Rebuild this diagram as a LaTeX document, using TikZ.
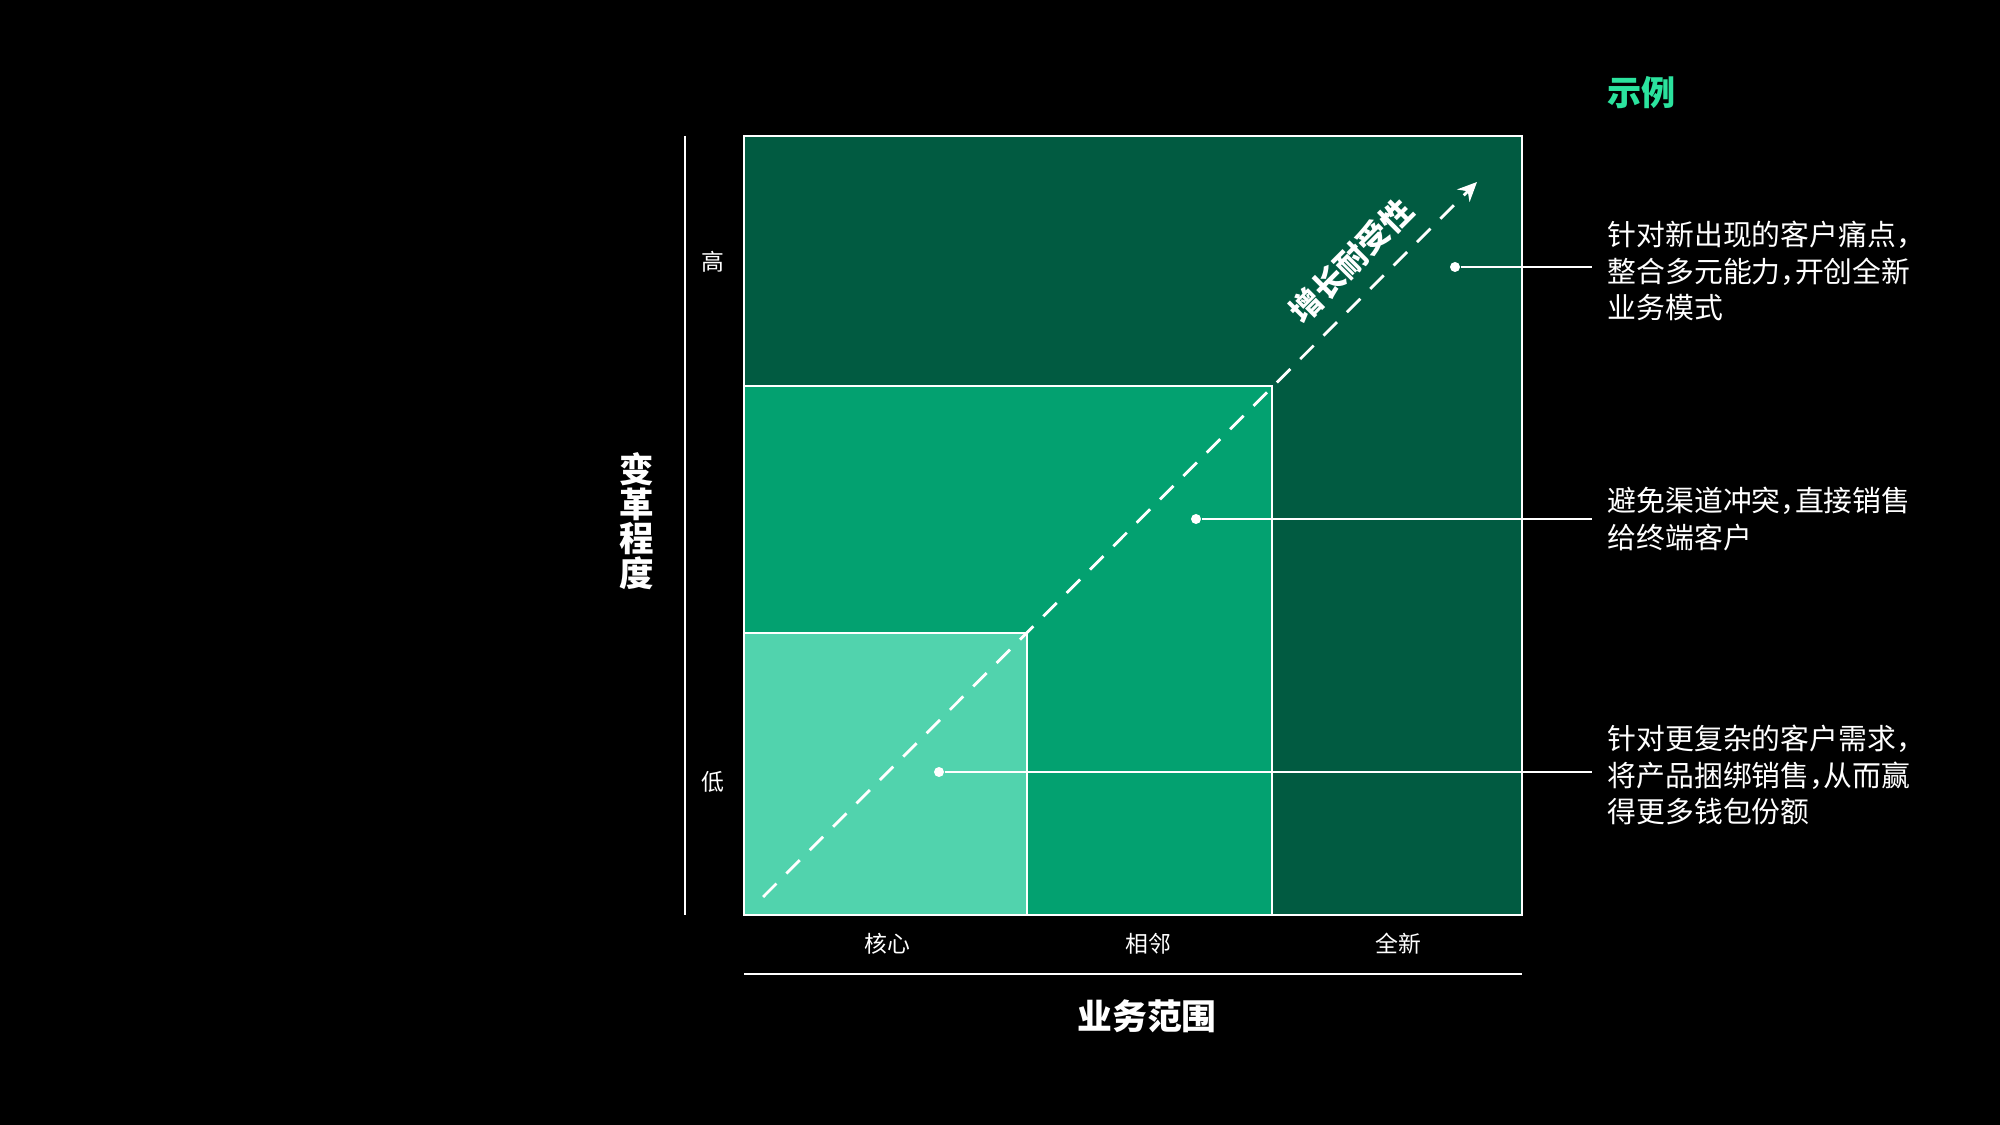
\documentclass[tikz,border=0pt]{standalone}
\usepackage{fontspec}
\setmainfont{Noto Sans CJK SC}[RawFeature={+halt}]
\usetikzlibrary{arrows.meta}
\definecolor{deepgreen}{HTML}{015B41}
\definecolor{midgreen}{HTML}{03A170}
\definecolor{lightgreen}{HTML}{51D3AD}
\definecolor{titlegreen}{HTML}{2BE39E}

\begin{document}
\begin{tikzpicture}[x=0.01cm,y=-0.01cm,
    box/.style={draw=white,line width=0.7pt},
    axis/.style={white,line width=0.5pt},
    tick/.style={white,font=\fontsize{6.5}{6.5}\selectfont},
    note/.style={anchor=west,white,align=left,inner xsep=4.25pt,font=\fontsize{8.2}{10.3}\selectfont},
    dot/.style={circle,fill=white,inner sep=0pt,minimum size=0.1cm}]
        \fill[black] (0,0) rectangle (2000,1125);
        \useasboundingbox (0,0) rectangle (2000,1125);
        % nested squares
        \draw[box,fill=deepgreen] (744,136) rectangle (1522,915);
        \draw[box,fill=midgreen] (744,386) rectangle (1272,915);
        \draw[box,fill=lightgreen] (744,633) rectangle (1027,915);
        % axes
        \coordinate (yTop) at (685,136);
        \coordinate (yBot) at (685,915);
        \draw[axis] (yTop) -- (yBot);
        \coordinate (xL) at (744,974);
        \coordinate (xR) at (1522,974);
        \draw[axis] (xL) -- (xR);
        \node[tick] (hi) at (713,262) {高};
        \node[tick] (lo) at (713,782) {低};
        \node[tick] (core) at (887,944) {核心};
        \node[tick] (adj) at (1148,944) {相邻};
        \node[tick] (new) at (1398,944) {全新};
        \node[white,font=\bfseries\fontsize{9.9}{9.9}\selectfont] (xlab) at (1147,1016) {业务范围};
        \node[white,align=center,font=\bfseries\fontsize{9.8}{9.8}\selectfont] (ylab) at (637,521) {变\\革\\程\\度};
        % growth arrow
        \coordinate (gS) at (763,897);
        \coordinate (gE) at (1477,182);
        \draw[white,line width=0.8pt,dash pattern=on 5.4pt off 4pt,-{Stealth[length=5.5pt,width=5pt]}] (gS) -- (gE)
            node[pos=0.857,sloped,above=1.5pt,font=\bfseries\fontsize{9}{9}\selectfont] (gLab) {增长耐受性};
        % callouts
        \node[font=\bfseries\fontsize{9.7}{9.7}\selectfont,text=titlegreen,anchor=west,inner xsep=0pt] (title) at (1607,93) {示例};
        \node[dot] (d1) at (1455,267) {};
        \node[note] (n1) at (1592,271) {针对新出现的客户痛点，\\整合多元能力，开创全新\\业务模式};
        \draw[axis] (d1) -- (d1 -| n1.west);
        \node[dot] (d2) at (1196,519) {};
        \node[note] (n2) at (1592,519) {避免渠道冲突，直接销售\\给终端客户};
        \draw[axis] (d2) -- (n2.west);
        \node[dot] (d3) at (939,772) {};
        \node[note] (n3) at (1592,775) {针对更复杂的客户需求，\\将产品捆绑销售，从而赢\\得更多钱包份额};
        \draw[axis] (d3) -- (d3 -| n3.west);
    \end{tikzpicture}
\end{document}
